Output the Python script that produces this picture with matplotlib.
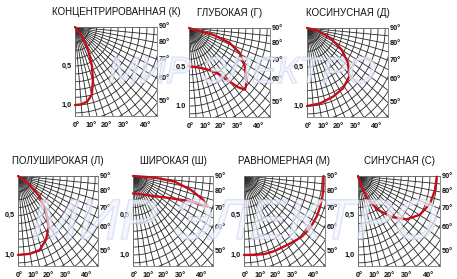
import matplotlib

matplotlib.use("Agg")
import matplotlib.patheffects as pe
import matplotlib.pyplot as plt
import numpy as np

plt.rcParams["font.family"] = ["Liberation Sans", "DejaVu Sans"]

FIG_W, FIG_H = 457, 279
LIM = 1.14  # side of the grid square, in relative intensity units

TITLES = [
    "КОНЦЕНТРИРОВАННАЯ (К)",
    "ГЛУБОКАЯ (Г)",
    "КОСИНУСНАЯ (Д)",
    "ПОЛУШИРОКАЯ (Л)",
    "ШИРОКАЯ (Ш)",
    "РАВНОМЕРНАЯ (М)",
    "СИНУСНАЯ (С)",
]
WATERMARK = "МИР ЭЛЕКТРО"

RAY_STEP = 5
RING_STEP = 0.1
RADIAL_VALUES = [0.5, 1.0]
BOTTOM_ANGLES = [0, 10, 20, 30, 40]
SIDE_ANGLES = [90, 80, 70, 60, 50]

# angle from nadir (deg) and relative intensity
K_ANGLE = [0, 5, 10, 15, 20, 25, 30, 35, 40, 44]
K_VALUE = [1.0, 0.995, 0.97, 0.90, 0.73, 0.56, 0.39, 0.26, 0.13, 0.0]

G_ANGLE = [0, 16.4, 25.3, 31.4, 36.3, 38.4, 40.7, 42.3, 44.8, 46.8, 50.7, 58.0, 65.9, 71.6, 75.8, 73.3, 73.0]
G_VALUE = [0.49, 0.53, 0.586, 0.652, 0.744, 0.846, 0.936, 1.024, 1.114, 1.097, 1.047, 0.925, 0.782, 0.60, 0.351, 0.104, 0.0]

D_ANGLE = [0, 10.9, 22.9, 33.5, 43.8, 52.2, 60.3, 68.8, 77.9, 82]
D_VALUE = [1.0, 0.983, 0.952, 0.923, 0.86, 0.73, 0.565, 0.354, 0.143, 0.0]

L_ANGLE = [0, 9.5, 18.3, 26.3, 34.5, 41.6, 50, 55.7, 58]
L_VALUE = [1.0, 1.0, 0.987, 0.90, 0.777, 0.60, 0.40, 0.20, 0.0]

SH_ANGLE = [0, 34.8, 49.6, 59.0, 64.2, 67.3, 68.8, 69.2, 69.8, 73.3, 77.8, 83.1, 86.3, 88]
SH_VALUE = [0.22, 0.29, 0.394, 0.525, 0.666, 0.80, 0.912, 0.995, 1.13, 1.044, 0.85, 0.60, 0.31, 0.0]

M_ANGLE = [0, 8.5, 16.3, 24.4, 32.6, 40.1, 46.4, 52.5, 58.3, 64.1, 70, 75.7, 80.8, 90]
M_VALUE = [1.0, 1.01, 1.03, 1.043, 1.057, 1.086, 1.118, 1.134, 1.14, 1.145, 1.14, 1.135, 1.13, 1.12]

S_ANGLE = [15, 19.2, 25, 33, 41.9, 50.9, 60.3, 70.7, 80.5, 89.5]
S_VALUE = [0.0, 0.143, 0.33, 0.513, 0.698, 0.871, 0.99, 1.06, 1.085, 1.095]

CURVES = [
    (K_ANGLE, K_VALUE),
    (G_ANGLE, G_VALUE),
    (D_ANGLE, D_VALUE),
    (L_ANGLE, L_VALUE),
    (SH_ANGLE, SH_VALUE),
    (M_ANGLE, M_VALUE),
    (S_ANGLE, S_VALUE),
]
DECIMAL = [",", ".", ",", ",", ",", ",", ","]

# left, top, right, bottom of each grid square in pixels
BOXES = [
    (75, 27, 157, 116),
    (189, 28, 270, 117),
    (307, 28, 388, 117),
    (18, 176, 98, 266),
    (133, 176, 213, 266),
    (244, 176, 325, 266),
    (358, 176, 440, 266),
]

GRID_COLOR = "#2a2a2a"
CURVE_COLOR = "#c40d18"


def add_axes(fig, box):
    left, top, right, bottom = box
    return fig.add_axes(
        [left / FIG_W, 1 - bottom / FIG_H, (right - left) / FIG_W, (bottom - top) / FIG_H]
    )


def draw_grid(ax):
    for angle in np.radians(np.arange(0, 91, RAY_STEP)):
        ax.plot([0, 3 * np.sin(angle)], [0, -3 * np.cos(angle)], color=GRID_COLOR, lw=0.6)
    phi = np.linspace(0, np.pi / 2, 120)
    for radius in np.arange(RING_STEP, 1.65, RING_STEP):
        ax.plot(radius * np.sin(phi), -radius * np.cos(phi), color=GRID_COLOR, lw=0.6)
    ax.set_xlim(0, LIM)
    ax.set_ylim(-LIM, 0)
    ax.set_xticks([])
    ax.set_yticks([])
    for spine in ax.spines.values():
        spine.set_color("#777777")
        spine.set_linewidth(0.6)


def draw_labels(ax, sep):
    style = dict(fontsize=5.3, fontweight="bold", color="#111111", textcoords="offset points")
    for value in RADIAL_VALUES:
        text = f"{value:.1f}".replace(".", sep)
        ax.annotate(text, xy=(0, -value), xytext=(-2.5, 0), ha="right", va="center", **style)
    for angle in BOTTOM_ANGLES:
        x = LIM * np.tan(np.radians(angle))
        ax.annotate(f"{angle}°", xy=(x, -LIM), xytext=(1, -7), ha="center", va="center", **style)
    for angle in SIDE_ANGLES:
        y = -LIM / np.tan(np.radians(angle))
        ax.annotate(f"{angle}°", xy=(LIM, y), xytext=(1.5, 0), ha="left", va="center", **style)


def main():
    fig = plt.figure(figsize=(FIG_W / 100, FIG_H / 100), dpi=100)
    for title, (angles, values), box, sep in zip(TITLES, CURVES, BOXES, DECIMAL):
        ax = add_axes(fig, box)
        draw_grid(ax)
        draw_labels(ax, sep)
        theta = np.radians(angles)
        values = np.asarray(values)
        ax.plot(
            values * np.sin(theta),
            -values * np.cos(theta),
            color=CURVE_COLOR,
            lw=1.7,
            solid_joinstyle="round",
            solid_capstyle="round",
            clip_on=False,
            zorder=5,
        )
        left, top, right, _ = box
        fig.text(
            (left + right) / 2 / FIG_W,
            1 - (top - 15) / FIG_H,
            title,
            ha="center",
            va="center",
            fontsize=7,
            color="#111111",
        )

    # faint site watermark laid over both rows
    mark = dict(
        ha="center",
        va="center",
        style="italic",
        color="#f2f5fc",
        alpha=0.45,
        zorder=20,
        path_effects=[pe.withStroke(linewidth=1.0, foreground="#a9bae6")],
    )
    fig.text(242 / FIG_W, 1 - 73 / FIG_H, WATERMARK, fontsize=27, **mark)
    fig.text(235 / FIG_W, 1 - 224 / FIG_H, WATERMARK, fontsize=41, **mark)

    fig.savefig("out.png", dpi=100)
    plt.close(fig)


if __name__ == "__main__":
    main()
